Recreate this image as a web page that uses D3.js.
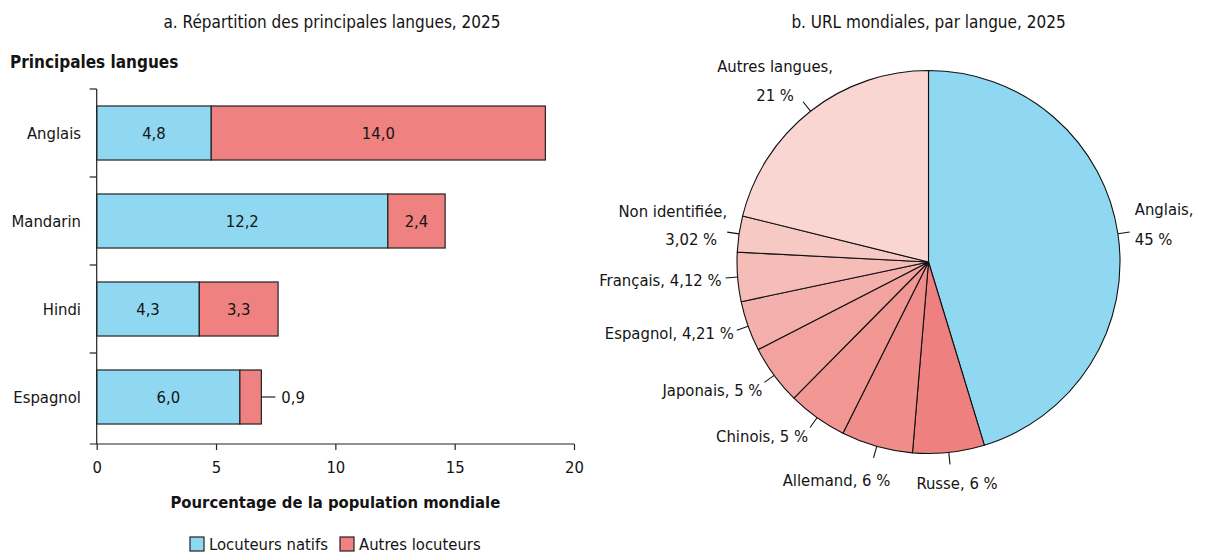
<!DOCTYPE html>
<html>
<head>
<meta charset="utf-8">
<script src="https://cdn.jsdelivr.net/npm/d3@7"></script>
<style>
  body { margin: 0; background: #fff; }
  svg { display: block; }
  text { font-family: "DejaVu Sans Condensed", "Liberation Sans Narrow", sans-serif; font-stretch: condensed; fill: #141414; }
</style>
</head>
<body>
<svg width="1206" height="554"></svg>
<script>
// Panel a: main languages (% of world population)
const languages = ["Anglais", "Mandarin", "Hindi", "Espagnol"];
const natifs = [4.8, 12.2, 4.3, 6.0];
const autres = [14.0, 2.4, 3.3, 0.9];
const xTicks = [0, 5, 10, 15, 20];
const seriesNames = ["Locuteurs natifs", "Autres locuteurs"];

// Panel b: world URLs by language
const urlLangs = ["Anglais", "Russe", "Allemand", "Chinois", "Japonais", "Espagnol", "Français", "Non identifiée", "Autres langues"];
const urlShares = [45, 6, 6, 5, 5, 4.21, 4.12, 3.02, 21];

const blue = "#90d8f1";
const red = "#ef8181";
const sliceColors = [blue, "#ee8080", "#f08d8a", "#f19895", "#f2a3a0", "#f4b0ac", "#f6bcb8", "#f7c9c5", "#f9d6d2"];

const fr = d3.formatLocale({decimal: ",", thousands: " ", grouping: [3], currency: ["", " €"]});
const f1 = fr.format(".1f");
const fPct = v => fr.format("~f")(v) + " %";

const svg = d3.select("svg");

// ---------- bar chart ----------
const x = d3.scaleLinear().domain([0, 20]).range([96.7, 574]);
const y = d3.scaleBand().domain(languages).range([89, 441]).paddingInner(0.386).paddingOuter(0.193);
const axisY = 444;

svg.append("text")
  .attr("x", 332).attr("y", 23)
  .attr("text-anchor", "middle").attr("dominant-baseline", "middle")
  .style("font-size", "17px")
  .text("a. Répartition des principales langues, 2025");

svg.append("text")
  .attr("x", 10).attr("y", 63)
  .attr("dominant-baseline", "middle")
  .style("font-size", "17px").style("font-weight", "bold")
  .text("Principales langues");

const rows = languages.map((l, i) => ({lang: l, n: natifs[i], a: autres[i]}));

const bar = svg.selectAll(".row")
  .data(rows)
  .enter()
  .append("g")
  .attr("class", "row");

bar.append("rect")
  .attr("x", x(0))
  .attr("y", d => y(d.lang))
  .attr("width", d => x(d.n) - x(0))
  .attr("height", y.bandwidth())
  .attr("fill", blue)
  .attr("stroke", "#222").attr("stroke-width", 1.2);

bar.append("rect")
  .attr("x", d => x(d.n))
  .attr("y", d => y(d.lang))
  .attr("width", d => x(d.n + d.a) - x(d.n))
  .attr("height", y.bandwidth())
  .attr("fill", red)
  .attr("stroke", "#222").attr("stroke-width", 1.2);

bar.append("text")
  .attr("x", d => (x(0) + x(d.n)) / 2)
  .attr("y", d => y(d.lang) + y.bandwidth() / 2)
  .attr("text-anchor", "middle").attr("dominant-baseline", "central")
  .style("font-size", "16.5px")
  .text(d => f1(d.n));

// small segments get their label outside with a leader line
bar.each(function(d) {
  const g = d3.select(this);
  const cy = y(d.lang) + y.bandwidth() / 2;
  if (x(d.n + d.a) - x(d.n) > 40) {
    g.append("text")
      .attr("x", (x(d.n) + x(d.n + d.a)) / 2)
      .attr("y", cy)
      .attr("text-anchor", "middle").attr("dominant-baseline", "central")
      .style("font-size", "16.5px")
      .text(f1(d.a));
  } else {
    const end = x(d.n + d.a);
    g.append("line")
      .attr("x1", end).attr("x2", end + 14)
      .attr("y1", cy).attr("y2", cy)
      .attr("stroke", "#222").attr("stroke-width", 1.2);
    g.append("text")
      .attr("x", end + 20).attr("y", cy)
      .attr("dominant-baseline", "central")
      .style("font-size", "16.5px")
      .text(f1(d.a));
  }
});

// category labels
svg.selectAll(".cat")
  .data(languages)
  .enter()
  .append("text")
  .attr("class", "cat")
  .attr("x", 81)
  .attr("y", d => y(d) + y.bandwidth() / 2)
  .attr("text-anchor", "end").attr("dominant-baseline", "central")
  .style("font-size", "16.5px")
  .text(d => d);

// y axis with ticks between bands
const bounds = languages.map(l => y(l) - y.step() * y.paddingInner() / 2);
svg.append("line")
  .attr("x1", x(0)).attr("x2", x(0))
  .attr("y1", bounds[0]).attr("y2", axisY)
  .attr("stroke", "#222").attr("stroke-width", 1.2);
svg.selectAll(".ytick")
  .data(bounds)
  .enter()
  .append("line")
  .attr("x1", x(0) - 7).attr("x2", x(0))
  .attr("y1", d => d).attr("y2", d => d)
  .attr("stroke", "#222").attr("stroke-width", 1.2);

// x axis
const xAxis = svg.append("g")
  .attr("transform", `translate(0,${axisY})`)
  .call(d3.axisBottom(x).tickValues(xTicks).tickSize(6).tickSizeOuter(0).tickFormat(d => d));
xAxis.select(".domain").remove();
xAxis.selectAll(".tick line").attr("stroke", "#222").attr("stroke-width", 1.2);
xAxis.selectAll(".tick text")
  .attr("y", 17)
  .style("font-size", "16.5px")
  .attr("fill", "#141414");
xAxis.attr("font-family", null);
xAxis.append("line")
  .attr("x1", x(0) - 7).attr("x2", x(20))
  .attr("stroke", "#222").attr("stroke-width", 1.2);

svg.append("text")
  .attr("x", (x(0) + x(20)) / 2).attr("y", 503)
  .attr("text-anchor", "middle").attr("dominant-baseline", "middle")
  .style("font-size", "16.5px").style("font-weight", "bold")
  .text("Pourcentage de la population mondiale");

// legend
const legend = svg.append("g").attr("transform", "translate(190,537)");
const legItems = legend.selectAll("g")
  .data(seriesNames)
  .enter()
  .append("g")
  .attr("transform", (d, i) => `translate(${i * 150},0)`);
legItems.append("rect")
  .attr("width", 14).attr("height", 14)
  .attr("fill", (d, i) => i === 0 ? blue : red)
  .attr("stroke", "#222").attr("stroke-width", 1.2);
legItems.append("text")
  .attr("x", 19).attr("y", 8)
  .attr("dominant-baseline", "middle")
  .style("font-size", "16.5px")
  .text(d => d);

// ---------- pie chart ----------
const cx = 928.5, cy = 262, r = 191.5;
const pie = d3.pie().sort(null).value(d => d.v);
const arcs = pie(urlLangs.map((l, i) => ({lang: l, v: urlShares[i]})));
const arc = d3.arc().innerRadius(0).outerRadius(r);

svg.append("text")
  .attr("x", cx).attr("y", 23)
  .attr("text-anchor", "middle").attr("dominant-baseline", "middle")
  .style("font-size", "17px")
  .text("b. URL mondiales, par langue, 2025");

const pieG = svg.append("g").attr("transform", `translate(${cx},${cy})`);

pieG.selectAll("path")
  .data(arcs)
  .enter()
  .append("path")
  .attr("d", arc)
  .attr("fill", (d, i) => sliceColors[i])
  .attr("stroke", "#111").attr("stroke-width", 1.1)
  .attr("stroke-linejoin", "round");

// label placement relative to the end of each leader line
const labelLayout = {
  "Anglais":        {anchor: "start",  lines: [[5, -22], [5, 8]], text: d => [d.lang + ",", fPct(d.v)]},
  "Russe":          {anchor: "middle", lines: [[7, 20]]},
  "Allemand":       {anchor: "middle", lines: [[-37, 24]]},
  "Chinois":        {anchor: "end",    lines: [[-2, 10]]},
  "Japonais":       {anchor: "end",    lines: [[-2, 9]]},
  "Espagnol":       {anchor: "end",    lines: [[-3, 4]]},
  "Français":       {anchor: "end",    lines: [[-4, 4]]},
  "Non identifiée": {anchor: "end",    lines: [[0, -20], [-10, 8]], text: d => [d.lang + ",", fPct(d.v)]},
  "Autres langues": {anchor: "middle", lines: [[-28, -34], [-28, -5]], text: d => [d.lang + ",", fPct(d.v)]}
};

const leaderLen = 12;
arcs.forEach(a => {
  const mid = (a.startAngle + a.endAngle) / 2;
  const p0 = [r * Math.sin(mid), -r * Math.cos(mid)];
  const p1 = [(r + leaderLen) * Math.sin(mid), -(r + leaderLen) * Math.cos(mid)];
  pieG.append("line")
    .attr("x1", p0[0]).attr("y1", p0[1])
    .attr("x2", p1[0]).attr("y2", p1[1])
    .attr("stroke", "#111").attr("stroke-width", 1.1);
  const lay = labelLayout[a.data.lang];
  const texts = lay.text ? lay.text(a.data) : [a.data.lang + ", " + fPct(a.data.v)];
  texts.forEach((t, k) => {
    pieG.append("text")
      .attr("x", p1[0] + lay.lines[k][0])
      .attr("y", p1[1] + lay.lines[k][1])
      .attr("text-anchor", lay.anchor)
      .attr("dominant-baseline", "middle")
      .style("font-size", "16.5px")
      .text(t);
  });
});
</script>
</body>
</html>
